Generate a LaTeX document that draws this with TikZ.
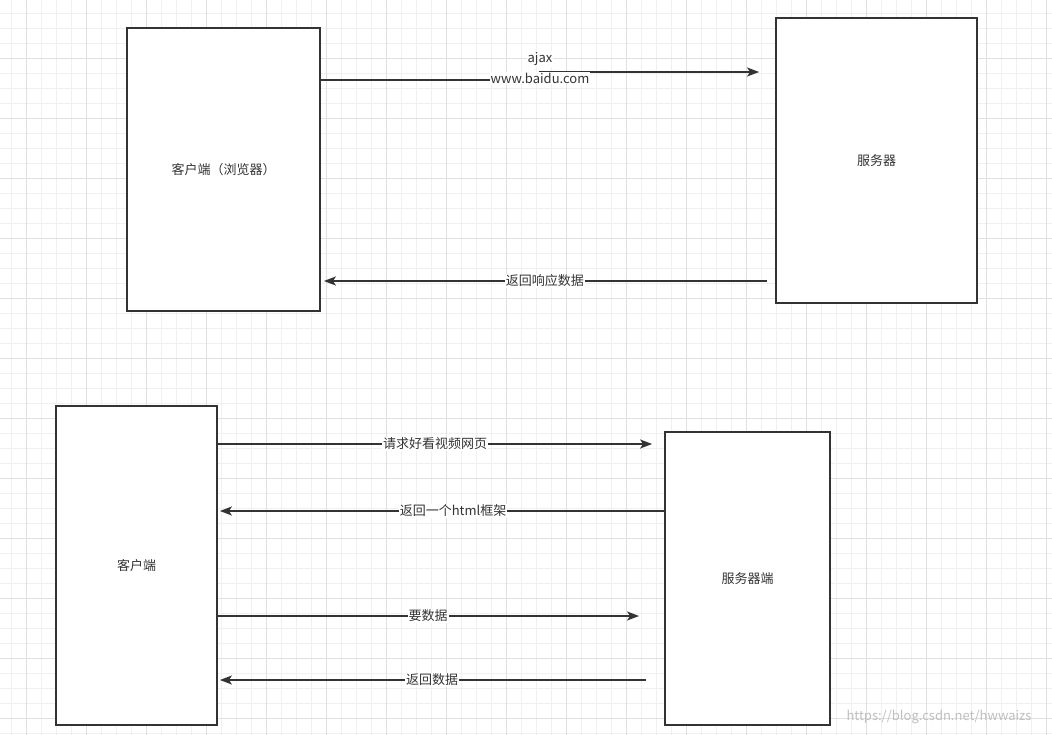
\documentclass[tikz,border=0pt]{standalone}
\usepackage{fontspec}
\setmainfont{Noto Sans CJK SC}
\usepackage{xcolor}
\usetikzlibrary{arrows.meta,positioning,calc}
\definecolor{ink}{HTML}{333333}
\tikzset{
  box/.style={draw=ink, line width=1.8pt, fill=white, text=ink,
    font=\fontsize{13}{16}\selectfont},
  lbl/.style={fill=white, text=ink, inner sep=1pt, align=center,
    font=\fontsize{13}{19}\selectfont},
  flow/.style={-{Stealth[length=12pt,width=9pt,inset=3pt]}, draw=ink, line width=1.8pt},
  gminor/.style={draw=black!6, line width=0.8pt},
  gmajor/.style={draw=black!12, line width=0.8pt}
}

\begin{document}
\begin{tikzpicture}[x=1pt,y=-1pt]
  \useasboundingbox (0,0) rectangle (1052,735);
  \fill[white] (0,0) rectangle (1052,735);

  % grid paper
  \foreach \x in {11.7,26.7,...,1052} \draw[gminor] (\x,0) -- (\x,735);
  \foreach \y in {13.3,28.3,...,735} \draw[gminor] (0,\y) -- (1052,\y);
  \foreach \x in {26.7,86.7,...,1052} \draw[gmajor] (\x,0) -- (\x,735);
  \foreach \y in {58.3,118.3,...,735} \draw[gmajor] (0,\y) -- (1052,\y);

  % ajax
  \node[box, minimum width=193, minimum height=283] (cliA) at (223.5,169.5) {客户端（浏览器）};
  \node[box, minimum width=201, minimum height=285] (srvA) at (876.5,160.5) {服务器};

  \draw[flow, shorten >=16pt] (cliA.east |- 0,80) -- (540,80) -- (540,72) -- (srvA.west |- 0,72);
  \node[lbl] (ajaxlbl) at (540,59) {ajax};
  \node[lbl] (urllbl) at (540,78) {www.baidu.com};
  \draw[flow, shorten <=8pt, shorten >=3pt] (srvA.west |- 0,281)
    -- node[lbl, pos=0.507] {返回响应数据} (cliA.east |- 0,281);

  % page + data
  \node[box, minimum width=161, minimum height=319] (cliB) at (136.5,565.5) {客户端};
  \node[box, minimum width=165, minimum height=293] (srvB) at (747.5,578.5) {服务器端};

  \draw[flow, shorten >=12pt] (cliB.east |- 0,444)
    -- node[lbl, pos=0.487] {请求好看视频网页} (srvB.west |- 0,444);
  \draw[flow, shorten >=2pt] (srvB.west |- 0,511)
    -- node[lbl, pos=0.473] {返回一个html框架} (cliB.east |- 0,511);
  \draw[flow, shorten >=25pt] (cliB.east |- 0,616)
    -- node[lbl, pos=0.471] {要数据} (srvB.west |- 0,616);
  \draw[flow, shorten <=18pt, shorten >=2pt] (srvB.west |- 0,680)
    -- node[lbl, pos=0.52] {返回数据} (cliB.east |- 0,680);

  \node[text=black!25, font=\fontsize{13}{15}\selectfont] (mark) at (939,717) {https://blog.csdn.net/hwwaizs};
\end{tikzpicture}
\end{document}
